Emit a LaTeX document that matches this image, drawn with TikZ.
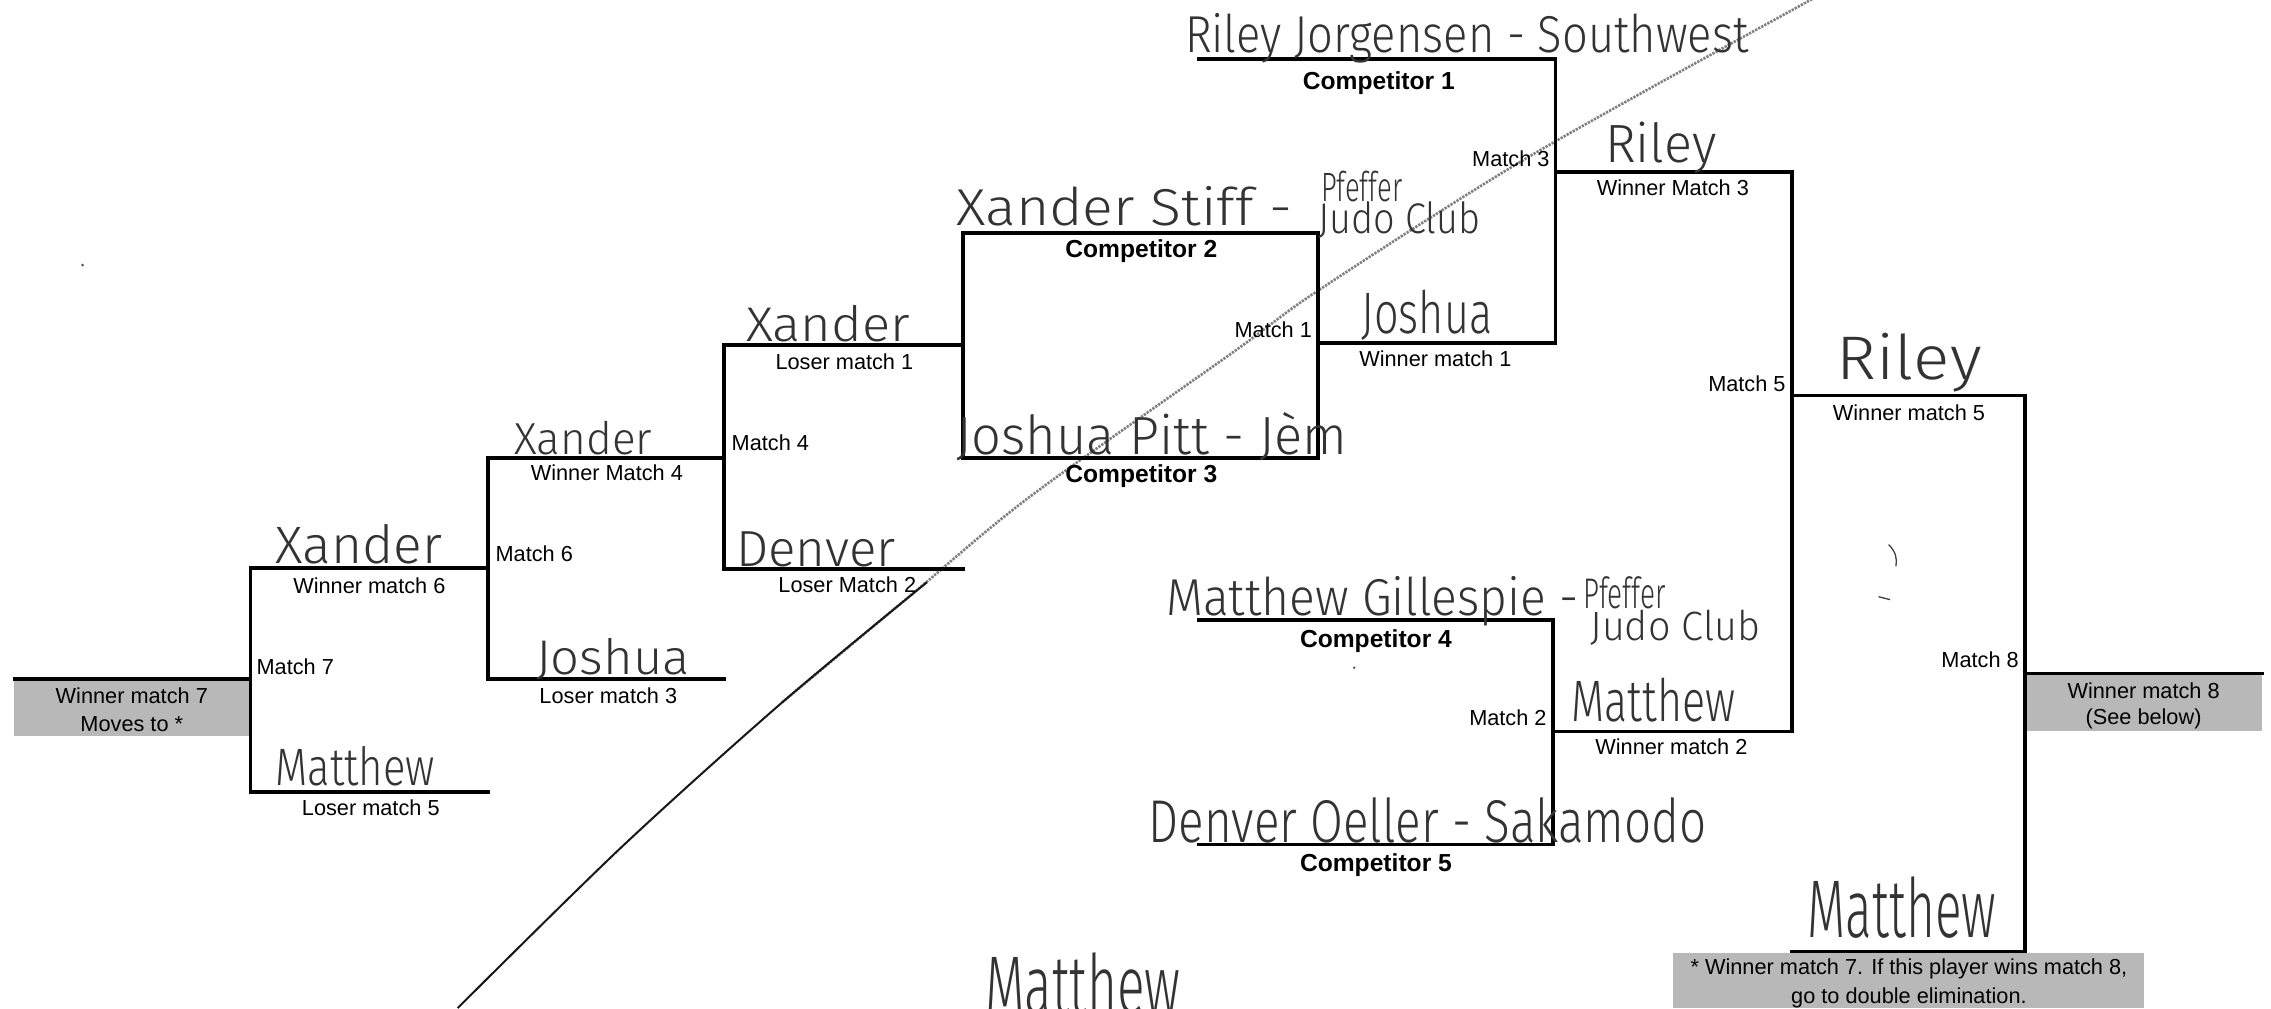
\documentclass[tikz,border=0pt]{standalone}
\usepackage{fontspec}
\setmainfont{Liberation Sans}
\newfontfamily\hwfont{Fira Sans Light}
\usepackage{graphicx}
\newcommand{\hw}[3]{\resizebox{#1pt}{#2pt}{\hwfont #3}}
\begin{document}
\begin{tikzpicture}[x=1pt,y=1pt,
  br/.style={line width=2.6pt, line join=miter, line cap=rect},
  lab/.style={inner sep=0pt, font=\fontsize{15}{17}\selectfont, anchor=base},
  blab/.style={inner sep=0pt, font=\fontsize{17}{19}\selectfont\bfseries, anchor=base},
  mlabr/.style={lab, anchor=base east},
  mlabl/.style={lab, anchor=base west},
  hwn/.style={inner sep=0pt, anchor=base west, text=black!80},
  greybox/.style={fill=black!28, draw=none},
  scribble/.style={line width=1.8pt, black!50, dash pattern=on 1.6pt off 0.8pt},
  scribdark/.style={line width=1.4pt, black!90}
]
\useasboundingbox[fill=white] (0,0) rectangle (1568,-696);

% ---------- coordinates ----------
\coordinate (c1a) at (828,-41);  \coordinate (c1b) at (1074,-41);
\coordinate (m3bot) at (1074,-237); \coordinate (w1a) at (910,-237);
\coordinate (w3a) at (1074,-119); \coordinate (w3b) at (1237,-119);
\coordinate (m5bot) at (1237,-505); \coordinate (w2a) at (1072,-505);
\coordinate (w5a) at (1237,-273); \coordinate (w5b) at (1398,-273);
\coordinate (m8bot) at (1398,-657); \coordinate (b8) at (1237,-657);
\coordinate (w8a) at (1398,-465); \coordinate (w8b) at (1562,-465);
\coordinate (b2tl) at (665,-161); \coordinate (b3br) at (910,-316);
\coordinate (l1a) at (500,-238); \coordinate (l1b) at (665,-238);
\coordinate (l2a) at (500,-393); \coordinate (l2b) at (665,-393);
\coordinate (w4a) at (337,-316); \coordinate (w4b) at (500,-316);
\coordinate (l3a) at (337,-469); \coordinate (l3b) at (500,-469);
\coordinate (w6a) at (173,-392); \coordinate (w6b) at (337,-392);
\coordinate (l5a) at (173,-547); \coordinate (l5b) at (337,-547);
\coordinate (w7a) at (10,-469);  \coordinate (w7b) at (173,-469);
\coordinate (c4a) at (828,-428); \coordinate (c4b) at (1072,-428);
\coordinate (c5a) at (828,-583); \coordinate (c5b) at (1072,-583);

% ---------- grey boxes ----------
\fill[greybox] (10,-469) rectangle (172,-508);
\fill[greybox] (1398,-465) rectangle (1562,-505);
\fill[greybox] (1155,-658) rectangle (1480,-696);

% ---------- scribbled diagonal ----------
\draw[scribble] plot[smooth] coordinates {(540,-485) (630,-410) (711,-343) (853,-242) (911,-200) (1056,-108) (1250,0) (1266,8)};
\draw[scribdark] plot[smooth] coordinates {(316,-696) (429,-585) (540,-485) (640,-402)};

% ---------- bracket lines ----------
\draw[br] (c1a) -- (c1b) -- (m3bot) -- (w1a);
\draw[br] (w3a) -- (w3b) -- (m5bot) -- (w2a);
\draw[br] (w5a) -- (w5b) -- (m8bot) -- (b8);
\draw[br] (w8a) -- (w8b);
\draw[br] (b2tl) rectangle (b3br);
\draw[br] (l1b) -- (l1a) -- (l2a) -- (l2b);
\draw[br] (w4b) -- (w4a) -- (l3a) -- (l3b);
\draw[br] (w6b) -- (w6a) -- (l5a) -- (l5b);
\draw[br] (w7a) -- (w7b);
\draw[br] (c4a) -- (c4b) -- (c5b) -- (c5a);

% ---------- printed labels ----------
\node[blab] (tc1) at (952,-62) {Competitor 1};
\node[blab] (tc2) at (788,-178) {Competitor 2};
\node[blab] (tc3) at (788,-333) {Competitor 3};
\node[blab] (tc4) at (950,-447) {Competitor 4};
\node[blab] (tc5) at (950,-602) {Competitor 5};

\node[lab] (tw3) at (1155,-135) {Winner Match 3};
\node[lab] (tw1) at (991,-253) {Winner match 1};
\node[lab] (tl1) at (583,-255) {Loser match 1};
\node[lab] (tw4) at (419,-332) {Winner Match 4};
\node[lab] (tl2) at (585,-409) {Loser Match 2};
\node[lab] (tw6) at (255,-410) {Winner match 6};
\node[lab] (tl3) at (420,-486) {Loser match 3};
\node[lab] (tl5) at (256,-563) {Loser match 5};
\node[lab] (tw5) at (1318,-290) {Winner match 5};
\node[lab] (tw2) at (1154,-521) {Winner match 2};

\node[mlabr] (tm3) at (1070,-115) {Match 3};
\node[mlabr] (tm1) at (906,-233) {Match 1};
\node[mlabr] (tm5) at (1233,-270) {Match 5};
\node[mlabr] (tm8) at (1394,-461) {Match 8};
\node[mlabr] (tm2) at (1068,-501) {Match 2};
\node[mlabl] (tm4) at (505,-311) {Match 4};
\node[mlabl] (tm6) at (342,-388) {Match 6};
\node[mlabl] (tm7) at (177,-466) {Match 7};

\node[lab] (g7a) at (91,-486) {Winner match 7};
\node[lab] (g7b) at (91,-505) {Moves to *};
\node[lab] (g8a) at (1480,-482) {Winner match 8};
\node[lab] (g8b) at (1480,-500) {(See below)};
\node[lab] (fna) at (1318,-673) {* Winner match 7. If this player wins match 8,};
\node[lab] (fnb) at (1318,-693) {go to double elimination.};

% ---------- handwriting ----------
\node[hwn] (h1) at (818,-36) {\hw{389}{27}{Riley Jorgensen - Southwest}};
\node[hwn] (h2) at (1108,-112) {\hw{77}{28}{Riley}};
\node[hwn] (h3a) at (660,-156) {\hw{232}{27}{Xander Stiff -}};
\node[hwn] (h3b) at (912,-139) {\hw{56}{21}{Pfeffer}};
\node[hwn] (h3c) at (910,-161) {\hw{112}{22}{Judo Club}};
\node[hwn] (h4) at (940,-230) {\hw{90}{30}{Joshua}};
\node[hwn] (h5) at (515,-236) {\hw{113}{25}{Xander}};
\node[hwn] (h6) at (660,-314) {\hw{270}{29}{Joshua Pitt - Jèm}};
\node[hwn] (h7) at (355,-314) {\hw{95}{23}{Xander}};
\node[hwn] (h8) at (508,-391) {\hw{110}{24}{Denver}};
\node[hwn] (h9) at (190,-389) {\hw{115}{27}{Xander}};
\node[hwn] (h10) at (370,-466) {\hw{106}{25}{Joshua}};
\node[hwn] (h11) at (190,-542) {\hw{110}{27}{Matthew}};
\node[hwn] (h12) at (1268,-262) {\hw{100}{32}{Riley}};
\node[hwn] (h13a) at (805,-425) {\hw{285}{27}{Matthew Gillespie -}};
\node[hwn] (h13b) at (1093,-420) {\hw{57}{22}{Pfeffer}};
\node[hwn] (h13c) at (1098,-442) {\hw{117}{21}{Judo Club}};
\node[hwn] (h14) at (1085,-498) {\hw{113}{30}{Matthew}};
\node[hwn] (h15) at (793,-582) {\hw{385}{31}{Denver Oeller - Sakamodo}};
\node[hwn] (h16) at (1248,-647) {\hw{130}{42}{Matthew}};
\node[hwn] (h17) at (680,-700) {\hw{135}{42}{Matthew}};

% ---------- stray pencil marks ----------
\fill[black!70] (57,-183) circle (1pt);
\fill[black!70] (935,-461) circle (0.9pt);
\draw[black!75, line width=0.9pt] (1304,-376) .. controls (1309,-381) and (1310,-386) .. (1309,-391);
\draw[black!75, line width=0.9pt] (1297,-412) -- (1305,-414);
\end{tikzpicture}
\end{document}
